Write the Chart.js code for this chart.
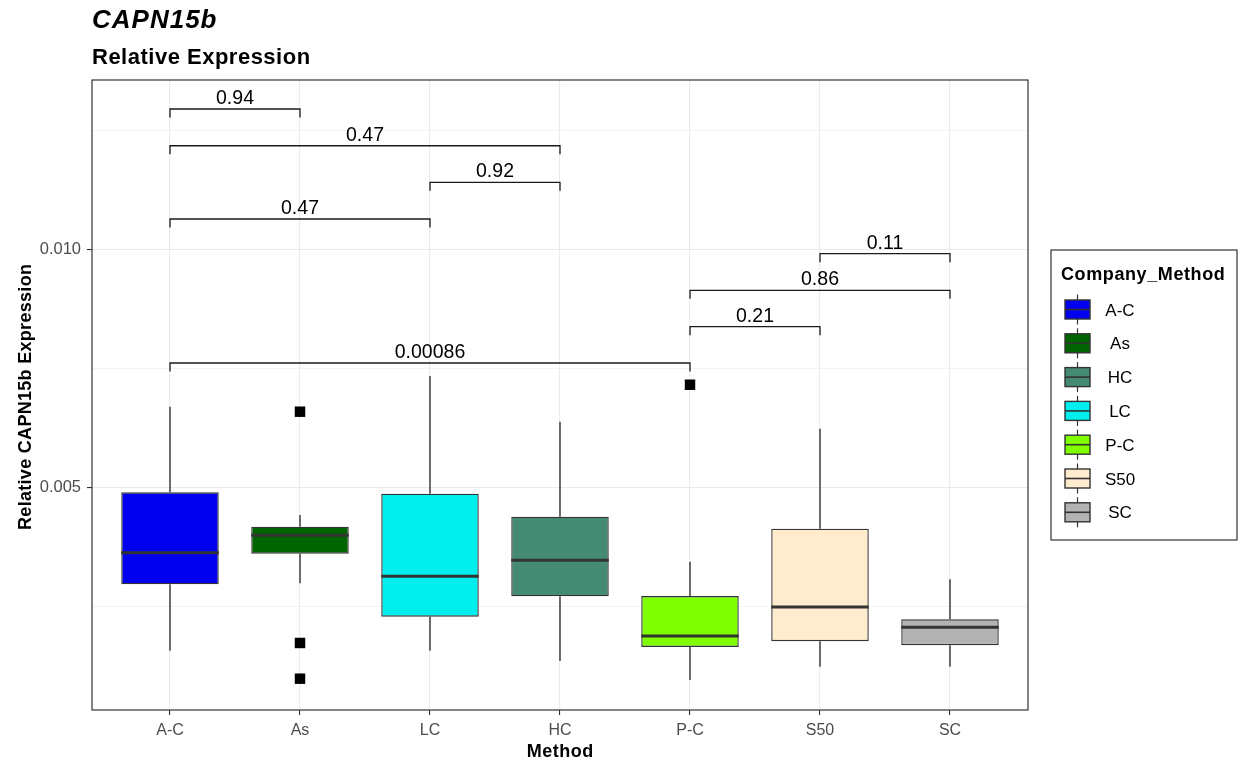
<!DOCTYPE html>
<html>
<head>
<meta charset="utf-8">
<script src="https://cdn.jsdelivr.net/npm/chart.js@4.4.0/dist/chart.umd.min.js"></script>
<style>
html,body{margin:0;padding:0;background:#ffffff;}
canvas{display:block;}
</style>
</head>
<body>
<canvas id="c" width="1238" height="761"></canvas>
<script>
// ---------------- data ----------------
const categories   = ['A-C', 'As', 'LC', 'HC', 'P-C', 'S50', 'SC'];
const whiskerLow   = [0.001567, 0.002983, 0.001567, 0.001351, 0.000952, 0.001231, 0.001231];
const q1           = [0.002962, 0.003605, 0.002282, 0.002710, 0.001645, 0.001765, 0.001681];
const medians      = [0.003626, 0.003992, 0.003130, 0.003466, 0.001876, 0.002485, 0.002059];
const q3           = [0.004895, 0.004172, 0.004866, 0.004382, 0.002716, 0.004130, 0.002227];
const whiskerHigh  = [0.006693, 0.004418, 0.007338, 0.006378, 0.003437, 0.006231, 0.003067];

const outlierGroups = ['As', 'As', 'As', 'P-C'];
const outlierValues = [0.006588, 0.001729, 0.000979, 0.007155];

const bracketFrom   = ['A-C', 'A-C', 'LC', 'A-C', 'S50', 'P-C', 'P-C', 'A-C'];
const bracketTo     = ['As', 'HC', 'HC', 'LC', 'SC', 'SC', 'S50', 'P-C'];
const bracketY      = [0.012948, 0.012176, 0.011408, 0.010637, 0.009908, 0.009139, 0.008374, 0.007611];
const bracketLabels = ['0.94', '0.47', '0.92', '0.47', '0.11', '0.86', '0.21', '0.00086'];

const majorTicks      = [0.005, 0.010];
const majorTickLabels = ['0.005', '0.010'];
const minorTicks      = [0.0025, 0.0075, 0.0125];

const legendLabels = ['A-C', 'As', 'HC', 'LC', 'P-C', 'S50', 'SC'];

// ---------------- styles ----------------
const groupColors = {
  'A-C': '#0000EE', 'As': '#006400', 'HC': '#458B74', 'LC': '#00EEEE',
  'P-C': '#7FFF00', 'S50': '#FFEBCD', 'SC': '#B3B3B3'
};
const FONT = '"Liberation Sans", Arial, Helvetica, sans-serif';
const yMin = 0.000321, yMax = 0.013557;

function drawText(ctx, s, x, y, font, color, align, spacing) {
  ctx.save();
  ctx.font = font;
  ctx.fillStyle = color;
  ctx.textAlign = align || 'left';
  ctx.textBaseline = 'alphabetic';
  let dx = 0;
  if (spacing) {
    ctx.letterSpacing = spacing + 'px';
    if (align === 'center') dx = spacing / 2;
  }
  ctx.fillText(s, x + dx, y);
  ctx.restore();
}

const boxPartsPlugin = {
  id: 'boxParts',
  beforeDatasetsDraw(chart) {
    const ctx = chart.ctx, x = chart.scales.x, y = chart.scales.y;
    ctx.save();
    ctx.strokeStyle = '#333333';
    ctx.lineWidth = 1.4;
    categories.forEach((c, i) => {
      const px = x.getPixelForValue(i);
      ctx.beginPath();
      ctx.moveTo(px, y.getPixelForValue(whiskerHigh[i]));
      ctx.lineTo(px, y.getPixelForValue(q3[i]));
      ctx.moveTo(px, y.getPixelForValue(q1[i]));
      ctx.lineTo(px, y.getPixelForValue(whiskerLow[i]));
      ctx.stroke();
    });
    ctx.restore();
  },
  afterDatasetsDraw(chart) {
    const ctx = chart.ctx, y = chart.scales.y, area = chart.chartArea;
    const meta = chart.getDatasetMeta(1);
    ctx.save();
    ctx.strokeStyle = '#333333';
    ctx.lineWidth = 3;
    meta.data.forEach((el, i) => {
      const py = y.getPixelForValue(medians[i]);
      ctx.beginPath();
      ctx.moveTo(el.x - el.width / 2, py);
      ctx.lineTo(el.x + el.width / 2, py);
      ctx.stroke();
    });
    // panel border
    ctx.strokeStyle = '#333333';
    ctx.lineWidth = 1.2;
    ctx.strokeRect(area.left, area.top, area.right - area.left, area.bottom - area.top);
    ctx.restore();
  },
  afterDraw(chart) {
    const ctx = chart.ctx, x = chart.scales.x, y = chart.scales.y, area = chart.chartArea;
    // significance brackets
    ctx.save();
    ctx.strokeStyle = '#1a1a1a';
    ctx.lineWidth = 1.3;
    const tip = 8.5;
    bracketFrom.forEach((f, i) => {
      const x1 = x.getPixelForValue(categories.indexOf(f));
      const x2 = x.getPixelForValue(categories.indexOf(bracketTo[i]));
      const py = y.getPixelForValue(bracketY[i]);
      ctx.beginPath();
      ctx.moveTo(x1, py + tip);
      ctx.lineTo(x1, py);
      ctx.lineTo(x2, py);
      ctx.lineTo(x2, py + tip);
      ctx.stroke();
      drawText(ctx, bracketLabels[i], (x1 + x2) / 2, py - 5, '19.5px ' + FONT, '#000000', 'center');
    });
    ctx.restore();

    // titles
    drawText(ctx, 'CAPN15b', 92, 28, 'italic bold 26px ' + FONT, '#000000', 'left', 1);
    drawText(ctx, 'Relative Expression', 92, 64, 'bold 22px ' + FONT, '#000000', 'left', 0.5);
    drawText(ctx, 'Method', (area.left + area.right) / 2, 757, 'bold 18px ' + FONT, '#000000', 'center', 0.5);
    ctx.save();
    ctx.translate(30.5, (area.top + area.bottom) / 2 + 2);
    ctx.rotate(-Math.PI / 2);
    drawText(ctx, 'Relative CAPN15b Expression', 0, 0, 'bold 18px ' + FONT, '#000000', 'center', 0.3);
    ctx.restore();

    // legend
    ctx.save();
    ctx.strokeStyle = '#333333';
    ctx.lineWidth = 1.2;
    ctx.strokeRect(1051, 250, 186, 290);
    ctx.restore();
    drawText(ctx, 'Company_Method', 1061, 280, 'bold 18px ' + FONT, '#000000', 'left', 0.6);
    legendLabels.forEach((lab, i) => {
      const yc = 309.5 + i * 33.8;
      const kx = 1065, kw = 25, kh = 19;
      ctx.save();
      ctx.strokeStyle = '#333333';
      ctx.lineWidth = 1.2;
      ctx.beginPath();
      ctx.moveTo(kx + kw / 2, yc - 15);
      ctx.lineTo(kx + kw / 2, yc + 15);
      ctx.stroke();
      ctx.fillStyle = groupColors[lab];
      ctx.fillRect(kx, yc - kh / 2, kw, kh);
      ctx.lineWidth = 1.4;
      ctx.strokeRect(kx, yc - kh / 2, kw, kh);
      ctx.lineWidth = 1.6;
      ctx.beginPath();
      ctx.moveTo(kx, yc);
      ctx.lineTo(kx + kw, yc);
      ctx.stroke();
      ctx.restore();
      drawText(ctx, lab, 1120, yc + 6, '17px ' + FONT, '#000000', 'center');
    });
  }
};

const chart = new Chart(document.getElementById('c'), {
  type: 'bar',
  data: {
    datasets: [
      {
        type: 'scatter',
        label: 'outliers',
        data: outlierGroups.map((g, i) => ({ x: categories.indexOf(g), y: outlierValues[i] })),
        pointStyle: 'rect',
        radius: 7.4,
        backgroundColor: '#000000',
        borderColor: '#000000',
        borderWidth: 0
      },
      {
        label: 'Company_Method',
        data: categories.map((c, i) => ({ x: i, y: [q1[i], q3[i]] })),
        backgroundColor: categories.map(c => groupColors[c]),
        borderColor: '#333333',
        borderWidth: 1.4,
        borderSkipped: false,
        barPercentage: 0.75,
        categoryPercentage: 1.0
      }
    ]
  },
  options: {
    responsive: false,
    animation: false,
    devicePixelRatio: 1,
    events: [],
    layout: { padding: { left: 0, right: 210, top: 80, bottom: 0 } },
    plugins: { legend: { display: false }, title: { display: false }, tooltip: { enabled: false } },
    scales: {
      x: {
        type: 'linear',
        min: -0.6,
        max: 6.6,
        offset: false,
        border: { display: false },
        grid: { offset: false, color: '#ebebeb', lineWidth: 1.1, tickColor: '#333333', tickLength: 5, drawTicks: true },
        afterBuildTicks(s) { s.ticks = categories.map((c, i) => ({ value: i })); },
        afterFit(s) { s.height = 51; },
        ticks: {
          autoSkip: false, maxRotation: 0, padding: 6, color: '#4d4d4d',
          font: { family: FONT, size: 16 },
          callback: (v) => categories[v]
        }
      },
      y: {
        type: 'linear',
        min: yMin,
        max: yMax,
        beginAtZero: false,
        border: { display: false },
        grid: {
          color: (c) => majorTicks.includes(c.tick && c.tick.value) ? '#ebebeb' : '#f0f0f0',
          lineWidth: (c) => majorTicks.includes(c.tick && c.tick.value) ? 1.1 : 0.8,
          tickColor: (c) => majorTicks.includes(c.tick && c.tick.value) ? '#333333' : 'rgba(0,0,0,0)',
          tickLength: 5,
          drawTicks: true
        },
        afterBuildTicks(s) {
          s.ticks = minorTicks.concat(majorTicks).sort((a, b) => a - b).map(v => ({ value: v }));
        },
        afterFit(s) { s.width = 92; },
        ticks: {
          padding: 6, color: '#4d4d4d',
          font: { family: FONT, size: 16.5 },
          callback: (v) => { const k = majorTicks.indexOf(v); return k >= 0 ? majorTickLabels[k] : ''; }
        }
      }
    }
  },
  plugins: [boxPartsPlugin]
});
</script>
</body>
</html>
